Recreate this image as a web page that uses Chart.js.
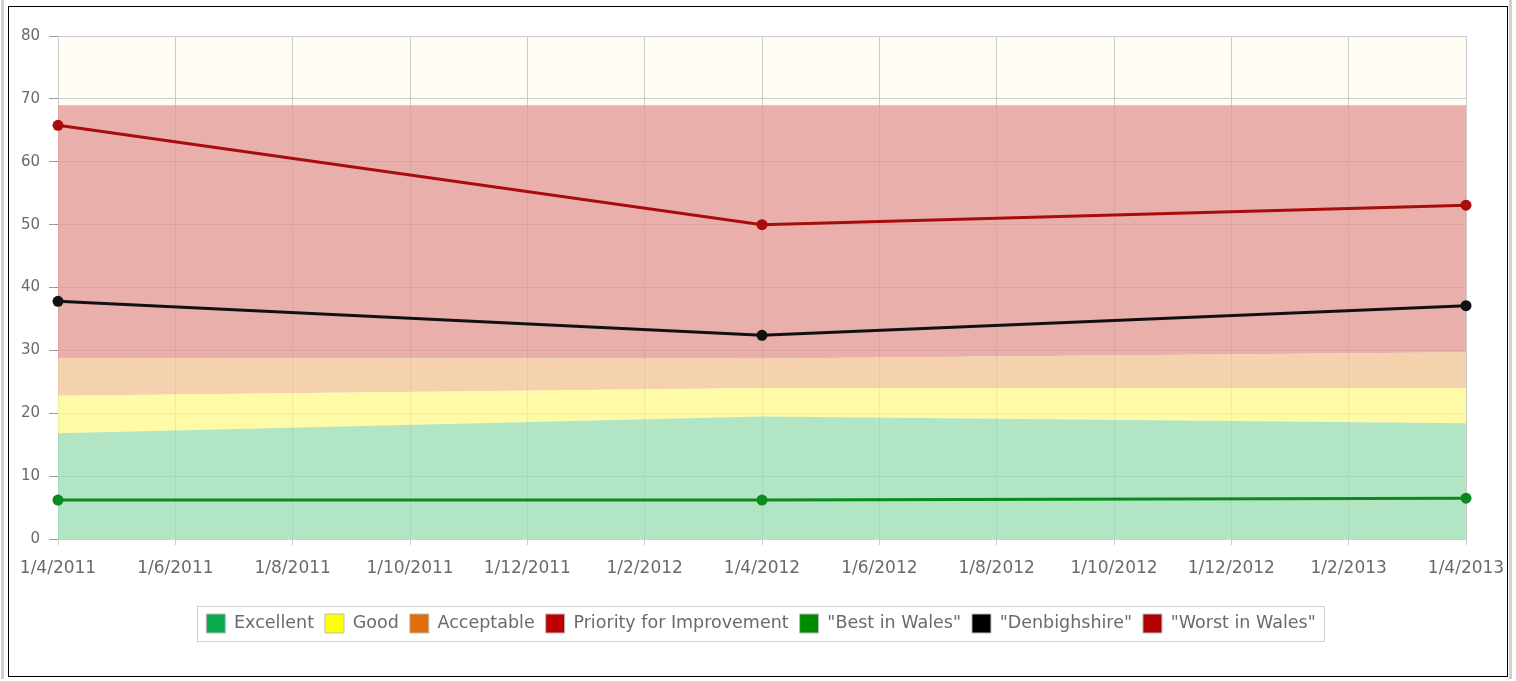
<!DOCTYPE html>
<html>
<head>
<meta charset="utf-8">
<script src="https://cdn.jsdelivr.net/npm/chart.js@4/dist/chart.umd.min.js"></script>
<style>
  html, body { margin: 0; padding: 0; background: #fff; }
  body { width: 1516px; height: 681px; position: relative; overflow: hidden; }
  #frameOuter { position: absolute; left: 1px; top: 0px; width: 1511px; height: 679px; border-left: 3px solid #d0d0d0; border-right: 3px solid #d0d0d0; box-sizing: border-box; }
  #wrap { position: absolute; left: 8px; top: 6px; width: 1500px; height: 671px; border: 1px solid #000; box-sizing: border-box; background: #fff; overflow: hidden; }
  #c { display: block; }
</style>
</head>
<body>
<div id="frameOuter"></div>
<div id="wrap"><canvas id="c" width="1498" height="669"></canvas></div>
<script>
const tickLabels = ['1/4/2011','1/6/2011','1/8/2011','1/10/2011','1/12/2011','1/2/2012','1/4/2012','1/6/2012','1/8/2012','1/10/2012','1/12/2012','1/2/2013','1/4/2013'];
const monthsFromStart = [0, 12, 24];
const excellentTop  = [16.8, 19.5, 18.4];
const goodTop       = [22.8, 24.0, 24.0];
const acceptableTop = [28.8, 28.7, 29.7];
const priorityTop   = [69, 69, 69];
const bestInWales   = [6.2, 6.2, 6.5];
const denbighshire  = [37.8, 32.4, 37.1];
const worstInWales  = [65.8, 50.0, 53.1];

const legendColors = ['#0aab4e', '#ffff00', '#e36c0a', '#c00000', '#008a00', '#000000', '#b00000'];

function pts(arr) { return arr.map((v, i) => ({x: monthsFromStart[i], y: v})); }

const FONT = 'DejaVu Sans';

const bgPlugin = {
  id: 'bg',
  beforeDraw(chart) {
    const {ctx, chartArea: a} = chart;
    ctx.save();
    ctx.fillStyle = '#fffcf4';
    ctx.fillRect(a.left, a.top, a.right - a.left, a.bottom - a.top);
    ctx.restore();
  },
  afterDraw(chart) {
    const lg = chart.legend;
    if (!lg || !lg.legendHitBoxes || !lg.legendHitBoxes.length) return;
    const hb = lg.legendHitBoxes;
    let l = Infinity, r = -Infinity, t = Infinity, b = -Infinity;
    hb.forEach(h => { l = Math.min(l, h.left); r = Math.max(r, h.left + h.width); t = Math.min(t, h.top); b = Math.max(b, h.top + h.height); });
    const ctx = chart.ctx;
    ctx.save();
    ctx.strokeStyle = '#cfcfcf';
    ctx.lineWidth = 1;
    const x0 = Math.round(l - 9) + 0.5, y0 = Math.round(t - 8) + 0.5;
    ctx.strokeRect(x0, y0, Math.round(r - l + 18), Math.round(b - t + 16));
    ctx.restore();
  }
};

const bandCommon = { borderWidth: 0, pointRadius: 0, borderColor: 'rgba(0,0,0,0)', order: 1 };
const lineCommon = { fill: false, borderWidth: 3, pointRadius: 5.5, pointBorderWidth: 0, order: 0 };

new Chart(document.getElementById('c'), {
  type: 'line',
  data: {
    datasets: [
      Object.assign({ label: 'Excellent', data: pts(excellentTop), fill: 'origin', backgroundColor: 'rgba(152,222,179,0.75)' }, bandCommon),
      Object.assign({ label: 'Good', data: pts(goodTop), fill: '-1', backgroundColor: 'rgba(254,250,139,0.75)' }, bandCommon),
      Object.assign({ label: 'Acceptable', data: pts(acceptableTop), fill: '-1', backgroundColor: 'rgba(240,196,150,0.75)' }, bandCommon),
      Object.assign({ label: 'Priority for Improvement', data: pts(priorityTop), fill: '-1', backgroundColor: 'rgba(224,149,147,0.75)' }, bandCommon),
      Object.assign({ label: '"Best in Wales"', data: pts(bestInWales), borderColor: '#0a8a1e', backgroundColor: '#0a8a1e' }, lineCommon),
      Object.assign({ label: '"Denbighshire"', data: pts(denbighshire), borderColor: '#111', backgroundColor: '#111' }, lineCommon),
      Object.assign({ label: '"Worst in Wales"', data: pts(worstInWales), borderColor: '#a80c0c', backgroundColor: '#a80c0c' }, lineCommon)
    ]
  },
  options: {
    responsive: false,
    animation: false,
    clip: false,
    layout: { padding: { top: 29, left: 6, right: 0, bottom: 33 } },
    scales: {
      x: {
        type: 'linear', min: 0, max: 24,
        ticks: { stepSize: 2, autoSkip: false, maxRotation: 0, color: '#6a6a6a', font: { family: FONT, size: 17 }, padding: 13,
          callback: (v) => tickLabels[Math.round(v / 2)] },
        grid: { color: '#cccccc', tickLength: 6, tickColor: '#cccccc' },
        border: { display: false },
        afterFit(s) { s.paddingRight = 41; s.paddingLeft = 0; s.height = 64; }
      },
      y: {
        min: 0, max: 80,
        ticks: { stepSize: 10, color: '#6a6a6a', font: { family: FONT, size: 15 }, padding: 9 },
        grid: { color: '#cccccc', tickLength: 9, tickColor: '#999' },
        border: { display: false },
        afterFit(s) { s.width = 43; }
      }
    },
    plugins: {
      tooltip: { enabled: false },
      legend: {
        position: 'bottom',
        labels: {
          color: '#6a6a6a',
          font: { family: FONT, size: 17.5 },
          boxWidth: 19, boxHeight: 19, padding: 11,
          generateLabels(chart) {
            return chart.data.datasets.map((d, i) => ({
              text: d.label, fillStyle: legendColors[i], strokeStyle: '#bbbbbb', lineWidth: 1,
              hidden: false, datasetIndex: i, fontColor: '#6a6a6a'
            }));
          }
        }
      }
    }
  },
  plugins: [bgPlugin]
});
</script>
</body>
</html>
